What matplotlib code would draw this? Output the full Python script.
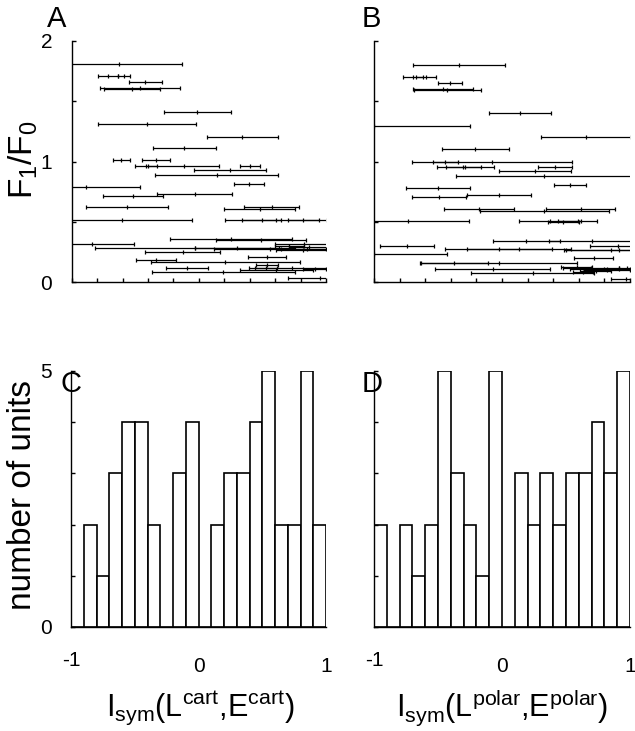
import matplotlib
matplotlib.use('Agg')
import matplotlib.pyplot as plt
from matplotlib.transforms import blended_transform_factory

plt.rcParams['font.family'] = ['Liberation Sans', 'DejaVu Sans']
plt.rcParams['mathtext.fontset'] = 'custom'
plt.rcParams['mathtext.rm'] = 'Liberation Sans'
plt.rcParams['mathtext.it'] = 'Liberation Sans'
plt.rcParams['mathtext.bf'] = 'Liberation Sans'

# ---------------- data ----------------
# Panel A: I_sym(L^cart, E^cart) centre, half-width of interval, F1/F0
a_center = [-0.63, -0.712, -0.588, -0.42, -0.463, -0.526, -0.012, -0.41, 0.342, -0.114,
            -0.609, -0.339, -0.415, -0.119, 0.402, 0.242, 0.140, -0.89, 0.395, -0.033,
            -0.520, -0.565, 0.573, 0.478, -0.605, 0.607, 0.494, 0.821, 0.256, 0.491,
            -0.843, 0.825, 0.71, -0.03, 0.30, 0.56, 0.85, 0.82, -0.127, 0.534,
            -0.339, 0.208, 0.537, -0.096, 0.735, 0.528, 0.91, 0.61, 0.193, 0.95, 0.87]
a_half = [0.50, 0.079, 0.044, 0.131, 0.315, 0.22, 0.262, 0.385, 0.28, 0.249,
          0.064, 0.109, 0.087, 0.278, 0.079, 0.284, 0.482, 0.43, 0.115, 0.294,
          0.236, 0.325, 0.218, 0.279, 0.55, 0.40, 0.153, 0.123, 0.48, 0.353,
          0.33, 0.23, 0.115, 0.787, 0.33, 0.44, 0.20, 0.21, 0.296, 0.151,
          0.156, 0.587, 0.085, 0.165, 0.34, 0.084, 0.09, 0.285, 0.565, 0.245, 0.16]
a_f1f0 = [1.81, 1.71, 1.71, 1.657, 1.607, 1.60, 1.408, 1.309, 1.206, 1.109,
          1.012, 1.012, 0.963, 0.963, 0.963, 0.929, 0.888, 0.791, 0.81, 0.733,
          0.714, 0.622, 0.625, 0.603, 0.515, 0.515, 0.515, 0.515, 0.354, 0.35,
          0.315, 0.318, 0.30, 0.282, 0.28, 0.275, 0.272, 0.262, 0.246, 0.21,
          0.183, 0.163, 0.141, 0.116, 0.114, 0.118, 0.112, 0.10, 0.083, 0.036, 0.288]

# Panel B: I_sym(L^polar, E^polar) centre, half-width, F1/F0
b_center = [-0.337, -0.695, -0.595, -0.407, -0.462, -0.428, 0.141, -1.0, 0.658, -0.209,
            -0.078, -0.444, -0.287, -0.303, 0.415, 0.256, 0.326, 0.533, -0.504, -0.021,
            -0.491, -0.18, 0.332, 0.616, -0.739, 0.376, 0.593, 0.48, 0.19, 0.702,
            -0.744, 0.906, -0.026, 0.133, 0.92, -1.0, 0.72, -0.376, -0.023, 0.585,
            -0.073, 0.24, 0.97, 0.70, 0.80, 0.916, 0.82, 0.733, 0.85, 0.637, 0.98]
b_half = [0.362, 0.077, 0.077, 0.094, 0.238, 0.265, 0.244, 0.75, 0.35, 0.261,
          0.629, 0.097, 0.222, 0.136, 0.136, 0.283, 0.69, 0.124, 0.251, 0.252,
          0.211, 0.272, 0.504, 0.272, 0.48, 0.245, 0.151, 0.12, 0.261, 0.337,
          0.214, 0.22, 0.417, 0.405, 0.437, 0.572, 0.153, 0.27, 0.61, 0.12,
          0.45, 0.48, 0.12, 0.22, 0.27, 0.09, 0.18, 0.12, 0.35, 0.078, 0.06]
b_f1f0 = [1.80, 1.70, 1.70, 1.649, 1.599, 1.592, 1.402, 1.295, 1.20, 1.101,
          0.998, 0.998, 0.957, 0.957, 0.957, 0.921, 0.882, 0.802, 0.78, 0.725,
          0.703, 0.608, 0.592, 0.608, 0.504, 0.504, 0.504, 0.50, 0.343, 0.343,
          0.301, 0.301, 0.274, 0.274, 0.265, 0.232, 0.202, 0.16, 0.155, 0.122,
          0.105, 0.072, 0.022, 0.115, 0.105, 0.11, 0.098, 0.09, 0.268, 0.08, 0.12]

# Histograms (bins of width 0.1 from -1 to 1)
bin_left = [-1.0, -0.9, -0.8, -0.7, -0.6, -0.5, -0.4, -0.3, -0.2, -0.1,
            0.0, 0.1, 0.2, 0.3, 0.4, 0.5, 0.6, 0.7, 0.8, 0.9]
hist_c = [0, 2, 1, 3, 4, 4, 2, 0, 3, 4, 0, 2, 3, 3, 4, 5, 2, 2, 5, 2]
hist_d = [2, 0, 2, 1, 2, 5, 3, 2, 1, 5, 0, 3, 2, 3, 2, 3, 3, 4, 3, 5]
x_tick_values = [-1, 0, 1]
x_tick_labels = ['-1', '0', '1']

# ---------------- figure ----------------
W, H = 635, 731
fig = plt.figure(figsize=(W / 100, H / 100), dpi=100)


def px_axes(left, right, top, bottom):
    return fig.add_axes([left / W, 1 - bottom / H, (right - left) / W, (bottom - top) / H])


TICK_FS = 15
XLABEL_FS = 22
YLABEL_FS = 24
PANEL_FS = 21
LW = 1.0


def style_common(ax):
    for s in ('top', 'right'):
        ax.spines[s].set_visible(False)
    for s in ('left', 'bottom'):
        ax.spines[s].set_linewidth(LW)
    ax.tick_params(direction='in', length=3, width=LW, labelsize=TICK_FS)


def scatter_panel(ax, c, h, y):
    ax.errorbar(c, y, xerr=h, fmt='none', ecolor='k', elinewidth=0.9,
                capsize=1.6, capthick=0.9)
    ax.plot(c, y, ls='none', marker='|', ms=3, mew=0.9, color='k')
    ax.set_xlim(-1, 1)
    ax.set_ylim(0, 2)
    style_common(ax)
    ax.set_xticks([-1 + 0.2 * i for i in range(11)])
    ax.set_xticklabels([])
    ax.set_yticks([0, 0.5, 1, 1.5, 2])


def hist_panel(ax, counts):
    ax.bar(bin_left, counts, width=0.1, align='edge', facecolor='white',
           edgecolor='k', linewidth=1.2)
    ax.set_xlim(-1, 1)
    ax.set_ylim(0, 5)
    style_common(ax)
    ax.set_yticks([0, 1, 2, 3, 4, 5])
    ax.set_xticks([])
    tr = blended_transform_factory(ax.transData, fig.transFigure)
    for v, lab in zip(x_tick_values, x_tick_labels):
        ypx = 661 if lab == '-1' else 667
        ax.text(v, 1 - ypx / H, lab, transform=tr, fontsize=TICK_FS,
                ha='center', va='center')


axA = px_axes(71.7, 326, 41, 282)
scatter_panel(axA, a_center, a_half, a_f1f0)
axA.set_yticklabels(['0', '', '1', '', '2'])
axA.tick_params(axis='y', pad=14)

axB = px_axes(374.3, 629.7, 41, 282)
scatter_panel(axB, b_center, b_half, b_f1f0)
axB.set_yticklabels([])

axC = px_axes(71, 326, 371, 627)
hist_panel(axC, hist_c)
axC.set_yticklabels(['0', '', '', '', '', '5'])
axC.tick_params(axis='y', pad=14)

axD = px_axes(374, 630, 371, 627)
hist_panel(axD, hist_d)
axD.set_yticklabels([])

# panel letters
for lab, x, y in (('A', 47, 5), ('B', 362, 5), ('C', 61, 370), ('D', 362, 370)):
    fig.text(x / W, 1 - y / H, lab, fontsize=PANEL_FS, ha='left', va='top')

# axis labels
fig.text(23 / W, 1 - 160 / H, r'$\mathregular{F_1/F_0}$', rotation=90,
         fontsize=YLABEL_FS, ha='center', va='center')
fig.text(23 / W, 1 - 495 / H, 'number of units', rotation=90,
         fontsize=YLABEL_FS, ha='center', va='center')
fig.text(200 / W, 1 - 708 / H, r'$\mathregular{I_{sym}(L^{cart}{,}E^{cart})}$',
         fontsize=XLABEL_FS, ha='center', va='center')
fig.text(502 / W, 1 - 708 / H, r'$\mathregular{I_{sym}(L^{polar}{,}E^{polar})}$',
         fontsize=XLABEL_FS, ha='center', va='center')

fig.savefig('out.png', dpi=100)
